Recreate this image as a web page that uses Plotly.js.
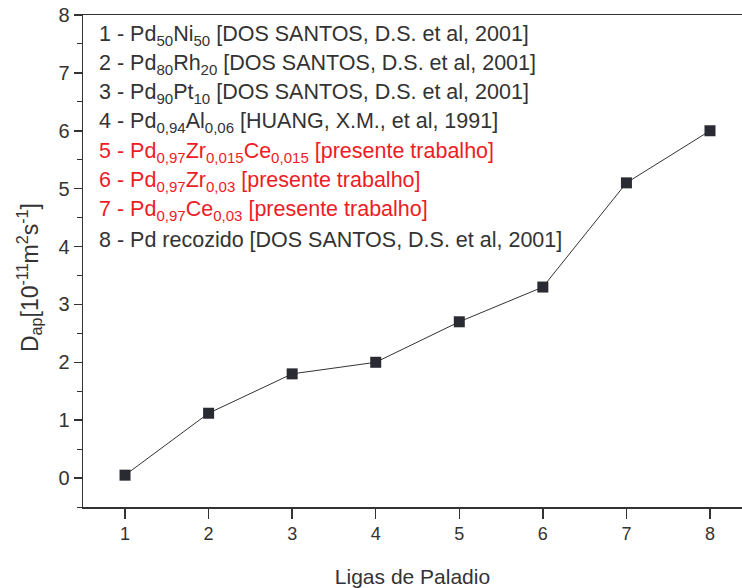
<!DOCTYPE html>
<html>
<head>
<meta charset="utf-8">
<script src="https://cdn.plot.ly/plotly-3.0.1.min.js"></script>
<style>html,body{margin:0;padding:0;overflow:hidden;background:#fff;}</style>
</head>
<body>
<div id="chart" style="width:742px;height:588px;"></div>
<script>
// Data
const ligas = [1, 2, 3, 4, 5, 6, 7, 8];
const dap = [0.05, 1.12, 1.8, 2.0, 2.7, 3.3, 5.1, 6.0];
const xTicks = [1, 2, 3, 4, 5, 6, 7, 8];
const yTicks = [0, 1, 2, 3, 4, 5, 6, 7, 8];
const legendLines = [
  "1 - Pd<sub>50</sub>Ni<sub>50</sub> [DOS SANTOS, D.S. et al, 2001]",
  "2 - Pd<sub>80</sub>Rh<sub>20</sub> [DOS SANTOS, D.S. et al, 2001]",
  "3 - Pd<sub>90</sub>Pt<sub>10</sub> [DOS SANTOS, D.S. et al, 2001]",
  "4 - Pd<sub>0,94</sub>Al<sub>0,06</sub> [HUANG, X.M., et al, 1991]",
  "5 - Pd<sub>0,97</sub>Zr<sub>0,015</sub>Ce<sub>0,015</sub> [presente trabalho]",
  "6 - Pd<sub>0,97</sub>Zr<sub>0,03</sub> [presente trabalho]",
  "7 - Pd<sub>0,97</sub>Ce<sub>0,03</sub> [presente trabalho]",
  "8 - Pd recozido [DOS SANTOS, D.S. et al, 2001]"
];
const legendRed = [false, false, false, false, true, true, true, false];
const yTitle = 'D<sub>ap</sub>[10<sup>-11</sup>m<sup>2</sup>s<sup>-1</sup>]';

const dark = '#333333';
const red = '#ee1c25';
const fam = 'Liberation Sans, Arial, sans-serif';

const trace = {
  x: ligas, y: dap, type: 'scatter', mode: 'lines+markers',
  line: {color: dark, width: 1},
  marker: {symbol: 'square', size: 11, color: '#2a2a32'},
  showlegend: false, hoverinfo: 'none'
};

const annotations = legendLines.map((t, i) => ({
  text: t, xref: 'paper', yref: 'paper',
  x: 14 / 659, y: 1 - (20 + i * 29.3) / 492,
  xanchor: 'left', yanchor: 'middle', showarrow: false,
  font: {family: fam, size: 21.5, color: legendRed[i] ? red : dark}
}));
annotations.push({
  text: yTitle, xref: 'paper', yref: 'paper', textangle: -90,
  x: (29 - 83) / 659, y: 1 - (277 - 15) / 492,
  xanchor: 'center', yanchor: 'middle', showarrow: false,
  font: {family: fam, size: 23, color: dark}
});

const layout = {
  width: 742, height: 588,
  margin: {l: 83, r: 0, t: 15, b: 81},
  paper_bgcolor: '#fff', plot_bgcolor: '#fff',
  font: {family: fam, color: dark},
  xaxis: {
    range: [0.497, 8.383], tickvals: xTicks, ticktext: xTicks.map(String),
    ticks: 'outside', ticklen: 10, tickwidth: 1.5, tickcolor: dark,
    showline: true, linecolor: dark, linewidth: 1.5, mirror: true,
    showgrid: false, zeroline: false,
    tickfont: {size: 18, color: dark},
    title: {text: 'Ligas de Paladio', font: {size: 21, color: dark}, standoff: 26}
  },
  yaxis: {
    range: [-0.5, 8], tickvals: yTicks, ticktext: yTicks.map(String),
    ticks: 'outside', ticklen: 8, tickwidth: 1.5, tickcolor: dark,
    minor: {dtick: 0.5, ticks: 'outside', ticklen: 5, tickwidth: 1, tickcolor: dark, showgrid: false},
    showline: true, linecolor: dark, linewidth: 1.5, mirror: false,
    showgrid: false, zeroline: false,
    tickfont: {size: 20, color: dark}
  },
  annotations: annotations
};

Plotly.newPlot('chart', [trace], layout, {displayModeBar: false, staticPlot: true});
</script>
</body>
</html>
